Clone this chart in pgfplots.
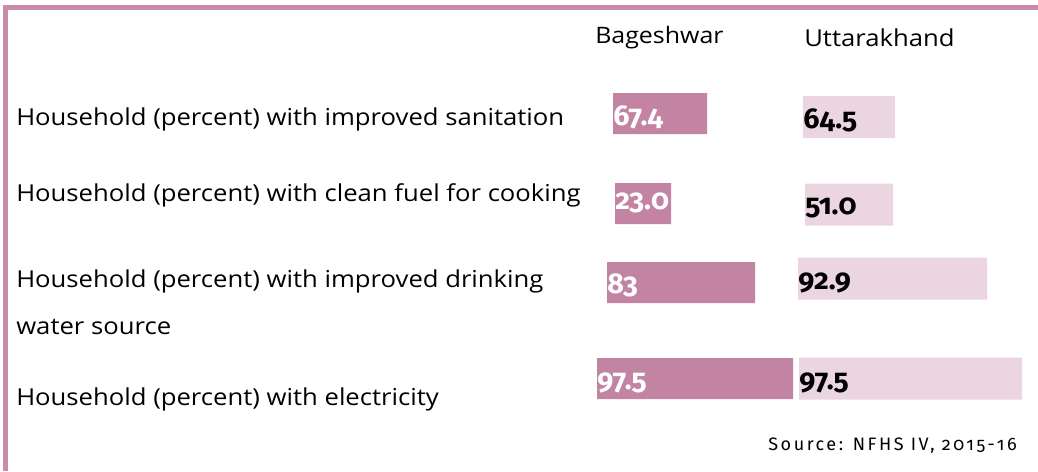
\documentclass[border=0pt]{standalone}
\usepackage{pgfplots}
\pgfplotsset{compat=1.18}
\usepackage{pgfplotstable}
\usepackage{fontspec}
\setmainfont[FakeStretch=1.1]{Open Sans}
\newfontfamily\numfont[Numbers=OldStyle]{Fira Sans}
\newfontfamily\srcfont[Numbers=OldStyle,LetterSpace=14]{Fira Sans}
\definecolor{dark}{HTML}{C284A2}
\definecolor{light}{HTML}{EBD5E1}
\definecolor{framec}{HTML}{C98BA9}

\pgfplotstableread{
y start len ty lab
113.5 613 94 117.5 67.4
203.5 615 56 203 23.0
282.5 607 148 285 83
378.5 597 196 383 97.5
}\bdata
\pgfplotstableread{
y start len ty lab
117 803 92 120 64.5
204.5 805 88 208 51.0
278.5 798 189 283 92.9
378.5 799 223 383 97.5
}\udata

\pgfplotsset{base/.style={x=0.75pt, y=0.75pt, xmin=0, xmax=1038, ymin=0, ymax=471,
  y dir=reverse, axis line style={draw=none}, major tick length=0pt,
  xtick=\empty, ytick=\empty, clip=false, anchor=south west, at={(0,0)}}}

\begin{document}
\begin{tikzpicture}
\begin{axis}[base, xbar stacked, bar width=41]
\addplot[draw=none, fill=none] table[x=start,y=y]{\bdata};
\addplot[draw=none, fill=dark] table[x=len,y=y]{\bdata};
\end{axis}
\begin{axis}[base, xbar stacked, bar width=42]
\addplot[draw=none, fill=none] table[x=start,y=y]{\udata};
\addplot[draw=none, fill=light] table[x=len,y=y]{\udata};
\end{axis}
\begin{axis}[base,
  ytick={119,195,302,399},
  yticklabels={{Household (percent) with improved sanitation},
               {Household (percent) with clean fuel for cooking},
               {Household (percent) with improved drinking\\water source},
               {Household (percent) with electricity}},
  yticklabel style={anchor=west, xshift=12pt, inner sep=0pt, align=left,
     font=\fontsize{17.5}{35.25}\selectfont}]
\addplot[only marks, mark=*, mark size=0pt, mark options={draw=none,fill=none},
  nodes near coords, point meta=explicit symbolic,
  nodes near coords style={anchor=west, inner sep=0pt, text=white,
     font=\numfont\bfseries\fontsize{21.5}{22}\selectfont}]
  table[x=start,y=ty,meta=lab]{\bdata};
\addplot[only marks, mark=*, mark size=0pt, mark options={draw=none,fill=none},
  nodes near coords, point meta=explicit symbolic,
  nodes near coords style={anchor=west, inner sep=0pt, text=black,
     font=\numfont\bfseries\fontsize{21.5}{22}\selectfont}]
  table[x=start,y=ty,meta=lab]{\udata};
\node[anchor=west, inner sep=0pt, font=\fontsize{17}{20}\selectfont] at (axis cs:595,38) {Bageshwar};
\node[anchor=west, inner sep=0pt, font=\fontsize{17.5}{20}\selectfont] at (axis cs:804,38) {Uttarakhand};
\node[anchor=east, inner sep=0pt, font=\srcfont\fontsize{13.5}{15}\selectfont] at (axis cs:1017,446) {Source: NFHS IV, 2015-16};
\draw[framec, line width=3.75pt] (axis cs:3,7.5) -- (axis cs:1038,7.5);
\draw[framec, line width=3.75pt] (axis cs:5.5,5) -- (axis cs:5.5,471);
\end{axis}
\pgfresetboundingbox
\path[use as bounding box] (0,0) rectangle (778.5pt,353.25pt);
\end{tikzpicture}
\end{document}
